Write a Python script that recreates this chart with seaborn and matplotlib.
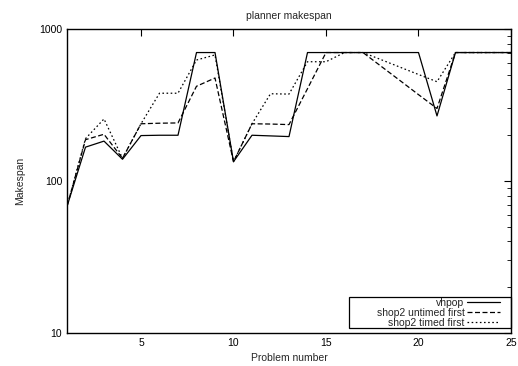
import matplotlib
matplotlib.use("Agg")
import matplotlib.pyplot as plt
import matplotlib.ticker as mticker
from matplotlib.patches import Rectangle
import seaborn as sns
import pandas as pd

problems = list(range(1, 26))
vhpop = [68, 167, 183, 139, 199, 200, 200, 700, 700, 134, 200, 198, 196,
         700, 700, 700, 700, 700, 700, 700, 268, 700, 700, 700, 700]
shop2_untimed = [68, 187, 203, 141, 238, 240, 241, 420, 476, 134, 238, 237, 235,
                 405, 700, 700, 700, 566, 458, 370, 300, 700, 700, 700, 700]
shop2_timed = [68, 190, 256, 141, 238, 378, 378, 625, 675, 134, 238, 375, 373,
               609, 609, 700, 700, 627, 561, 502, 450, 700, 700, 700, 700]
series_names = ["vhpop", "shop2 untimed first", "shop2 timed first"]
x_ticks = [5, 10, 15, 20, 25]
y_ticks = [10, 100, 1000]

df = pd.DataFrame({
    "problem": problems * 3,
    "makespan": vhpop + shop2_untimed + shop2_timed,
    "planner": [series_names[0]] * 25 + [series_names[1]] * 25 + [series_names[2]] * 25,
})

sns.set_style("white")
plt.rcParams["font.family"] = ["Liberation Sans", "DejaVu Sans"]

W, H = 518, 366
fig = plt.figure(figsize=(W / 100, H / 100), dpi=100)
ax = fig.add_axes([67 / W, 1 - 333 / H, (511 - 67) / W, (333 - 29) / H])

dash_map = {series_names[0]: "", series_names[1]: (4, 2), series_names[2]: (1.3, 2)}
sns.lineplot(data=df, x="problem", y="makespan", hue="planner", style="planner",
             palette=["black"] * 3, dashes=dash_map, linewidth=0.9, ax=ax,
             legend=True)

ax.set_yscale("log")
ax.set_xlim(1, 25)
ax.set_ylim(10, 1000)
ax.set_xticks(x_ticks)
ax.set_yticks(y_ticks)
ax.yaxis.set_major_formatter(mticker.FixedFormatter([str(v) for v in y_ticks]))
ax.yaxis.set_minor_locator(mticker.LogLocator(base=10, subs=range(2, 10)))
ax.yaxis.set_minor_formatter(mticker.NullFormatter())
ax.tick_params(axis="both", which="both", direction="in", top=True, right=True,
               labelsize=7.5, colors="black")
ax.tick_params(axis="both", which="major", length=5, width=0.8)
ax.tick_params(axis="y", which="minor", length=3, width=0.6)
for s in ax.spines.values():
    s.set_color("black")
    s.set_linewidth(1.0)

ax.set_title("planner makespan", fontsize=7.5, pad=7)
ax.set_xlabel("Problem number", fontsize=7.5, labelpad=4)
ax.set_ylabel("Makespan", fontsize=7.5, labelpad=10)

handles, labels = ax.get_legend_handles_labels()
leg = ax.legend(handles, labels, loc="lower right", fontsize=7.5, markerfirst=False,
                frameon=False, handlelength=3.2, borderaxespad=0.0,
                labelspacing=0.0, handletextpad=0.2, borderpad=0.0,
                bbox_to_anchor=(500 / W, 1 - 328 / H), bbox_transform=fig.transFigure)
for t in leg.get_texts():
    t.set_ha("right")
leg._legend_box.align = "right"

frame = Rectangle((349 / W, 1 - 328 / H), (511 - 349) / W, (328 - 297) / H,
                  transform=fig.transFigure, fill=False, edgecolor="black",
                  linewidth=0.9, zorder=5)
fig.patches.append(frame)

fig.savefig("out.png", dpi=100)
